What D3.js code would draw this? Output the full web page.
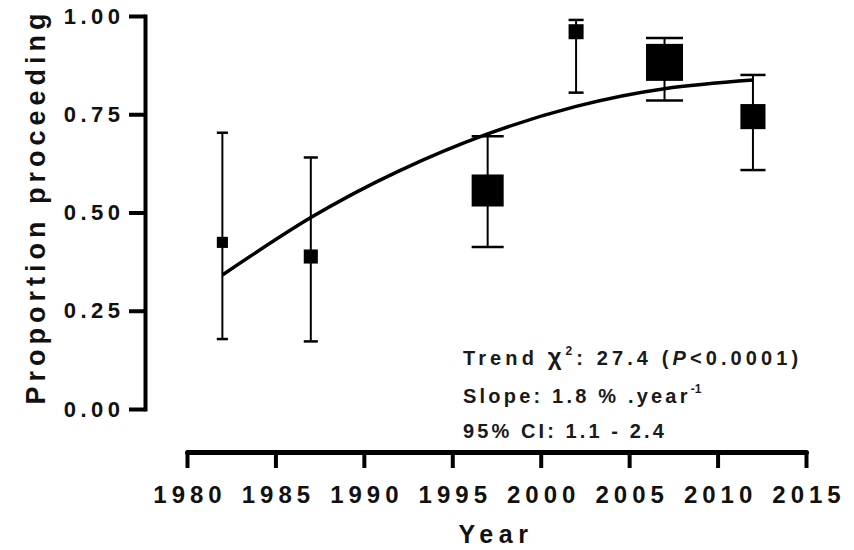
<!DOCTYPE html>
<html>
<head>
<meta charset="utf-8">
<style>
  body { margin: 0; background: #fff; }
  .axis text { font-family: Arial, "Liberation Sans", sans-serif; font-weight: bold; fill: #111; }
</style>
</head>
<body>
<script src="https://d3js.org/d3.v7.min.js"></script>
<script>

    // Data
    var years = [1982, 1987, 1997, 2002, 2007, 2012];
    var proportion = [0.424, 0.388, 0.556, 0.96, 0.882, 0.744];
    var ciLower = [0.178, 0.172, 0.412, 0.805, 0.785, 0.608];
    var ciUpper = [0.703, 0.64, 0.694, 0.99, 0.944, 0.85];
    // relative weight of each point (marker area)
    var weight = [9, 14.5, 75, 16.5, 100, 46];

    // Fitted trend
    var trendYears = [1982, 1987, 1992, 1997, 2002, 2007, 2012];
    var trendValues = [0.341, 0.487, 0.606, 0.70, 0.77, 0.815, 0.837];

    // Tick labels
    var xTicks = [1980, 1985, 1990, 1995, 2000, 2005, 2010, 2015];
    var yTicks = [0, 0.25, 0.5, 0.75, 1];

    var width = 854, height = 550;

    var x = d3.scaleLinear().domain([1980, 2015]).range([187, 806]);
    var y = d3.scaleLinear().domain([0, 1]).range([409, 16]);
    var size = d3.scaleSqrt().domain([0, 100]).range([0, 37]);

    var svg = d3.select("body")
        .append("svg")
        .attr("width", width)
        .attr("height", height);

    // Y axis
    var yAxis = svg.append("g")
        .attr("class", "axis")
        .attr("transform", "translate(145,0)")
        .call(d3.axisLeft(y)
            .tickValues(yTicks)
            .tickFormat(d3.format(".2f"))
            .tickSize(16)
            .tickSizeOuter(0)
            .tickPadding(4.5));
    yAxis.select(".domain").attr("stroke", "#000").attr("stroke-width", 4).attr("stroke-linecap", "square");
    yAxis.selectAll(".tick line").attr("stroke", "#000").attr("stroke-width", 4);
    yAxis.selectAll(".tick text")
        .style("font-size", "22px")
        .style("letter-spacing", "4.5px");

    // X axis
    var xAxis = svg.append("g")
        .attr("class", "axis")
        .attr("transform", "translate(0,452)")
        .call(d3.axisBottom(x)
            .tickValues(xTicks)
            .tickFormat(d3.format("d"))
            .tickSize(16)
            .tickSizeOuter(0)
            .tickPadding(18));
    xAxis.select(".domain").attr("stroke", "#000").attr("stroke-width", 5).attr("stroke-linecap", "round");
    xAxis.selectAll(".tick line").attr("stroke", "#000").attr("stroke-width", 4);
    xAxis.selectAll(".tick text")
        .style("font-size", "24px")
        .style("letter-spacing", "5px")
        .attr("dx", "2.5px");

    // Error bars
    var bars = svg.append("g");
    years.forEach(function(yr, i) {
        var s = size(weight[i]);
        bars.append("line")
            .attr("x1", x(yr)).attr("x2", x(yr))
            .attr("y1", y(ciLower[i])).attr("y2", y(ciUpper[i]))
            .attr("stroke", "#000").attr("stroke-width", 2);
        [ciLower[i], ciUpper[i]].forEach(function(v) {
            bars.append("line")
                .attr("x1", x(yr) - s / 2).attr("x2", x(yr) + s / 2)
                .attr("y1", y(v)).attr("y2", y(v))
                .attr("stroke", "#000").attr("stroke-width", 2.5);
        });
    });

    // Square markers
    svg.selectAll("rect.pt")
        .data(years)
        .enter()
        .append("rect")
        .attr("class", "pt")
        .attr("x", function(d, i) { return x(d) - size(weight[i]) / 2; })
        .attr("y", function(d, i) { return y(proportion[i]) - size(weight[i]) / 2; })
        .attr("width", function(d, i) { return size(weight[i]); })
        .attr("height", function(d, i) { return size(weight[i]); })
        .attr("fill", "#000");

    // Trend curve
    var line = d3.line()
        .x(function(d, i) { return x(trendYears[i]); })
        .y(function(d) { return y(d); })
        .curve(d3.curveNatural);
    svg.append("path")
        .datum(trendValues)
        .attr("d", line)
        .attr("fill", "none")
        .attr("stroke", "#000")
        .attr("stroke-width", 3.5);

    // Axis titles
    svg.append("text")
        .attr("transform", "translate(45,206.5) rotate(-90)")
        .style("text-anchor", "middle")
        .style("font", "bold 27px Arial, 'Liberation Sans', sans-serif")
        .style("letter-spacing", "5px")
        .attr("fill", "#111")
        .text("Proportion proceeding");

    svg.append("text")
        .attr("x", 496)
        .attr("y", 543)
        .style("text-anchor", "middle")
        .style("font", "bold 25px Arial, 'Liberation Sans', sans-serif")
        .style("letter-spacing", "5.5px")
        .attr("fill", "#111")
        .text("Year");

    // Annotation
    var noteFont = "bold 20px Arial, 'Liberation Sans', sans-serif";
    var note = svg.append("text")
        .attr("x", 463)
        .attr("y", 365)
        .style("font", noteFont)
        .style("letter-spacing", "4.1px")
        .attr("fill", "#1a1a1a");
    note.append("tspan").text("Trend ");
    note.append("tspan").style("font-size", "24px").text("\u03c7");
    note.append("tspan").attr("dy", -10).style("font-size", "12px").text("2");
    note.append("tspan").attr("dy", 10).text(": 27.4 (");
    note.append("tspan").style("font-style", "italic").text("P");
    note.append("tspan").text("<0.0001)");

    var note2 = svg.append("text")
        .attr("x", 463)
        .attr("y", 403)
        .style("font", noteFont)
        .style("letter-spacing", "3.2px")
        .attr("fill", "#1a1a1a");
    note2.append("tspan").text("Slope: 1.8 % .year");
    note2.append("tspan").attr("dy", -10).style("font-size", "12px").style("letter-spacing", "0px").text("-1");

    svg.append("text")
        .attr("x", 463)
        .attr("y", 438)
        .style("font", noteFont)
        .style("letter-spacing", "3.1px")
        .attr("fill", "#1a1a1a")
        .text("95% CI: 1.1 - 2.4");

</script>
</body>
</html>
